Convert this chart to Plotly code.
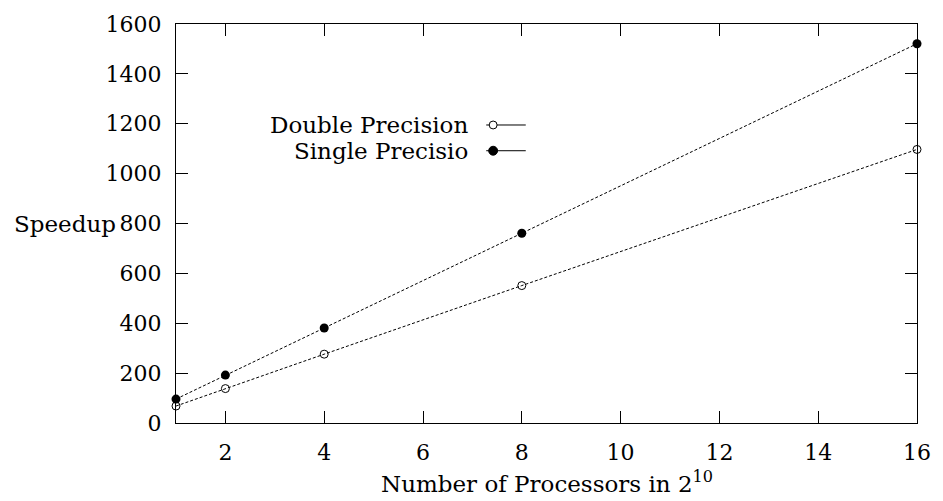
import plotly.graph_objects as go

procs = [1, 2, 4, 8, 16]
double_prec = [68, 138, 276, 551, 1097]
single_prec = [96, 192, 381, 761, 1521]
x_ticks = [2, 4, 6, 8, 10, 12, 14, 16]
y_ticks = [0, 200, 400, 600, 800, 1000, 1200, 1400, 1600]

FONT = "DejaVu Serif, Liberation Serif, serif"
FS = 22
FT = 23

fig = go.Figure()
fig.add_trace(go.Scatter(x=procs, y=double_prec, mode="lines+markers", name="Double Precision",
                         line=dict(color="black", width=1, dash="3px,2px"),
                         marker=dict(symbol="circle-open", size=8, color="black", line=dict(width=1)),
                         cliponaxis=False, showlegend=False))
fig.add_trace(go.Scatter(x=procs, y=single_prec, mode="lines+markers", name="Single Precisio",
                         line=dict(color="black", width=1, dash="3px,2px"),
                         marker=dict(symbol="circle", size=9, color="black"),
                         cliponaxis=False, showlegend=False))

# legend drawn like the original: label on the left, sample on the right
ML, MR, MT, MB = 176, 17, 20, 78
PW, PH = 943 - ML - MR, 501 - MT - MB
legend_items = [("Double Precision", False, 122), ("Single Precisio", True, 148)]
for name, filled, ypx in legend_items:
    yp = (501 - MB - ypx) / PH
    fig.add_annotation(xref="paper", yref="paper", x=(474 - ML) / PW, y=yp, text=name, showarrow=False,
                       xanchor="right", yanchor="middle", font=dict(family=FONT, size=FT, color="black"))
    fig.add_shape(type="line", xref="paper", yref="paper", x0=(490 - ML) / PW, x1=(530 - ML) / PW,
                  y0=yp, y1=yp, line=dict(color="black", width=1))
    r = 4 if not filled else 4.5
    cx = (497 - ML) / PW
    fig.add_shape(type="circle", xref="paper", yref="paper",
                  x0=cx - r / PW, x1=cx + r / PW, y0=yp - r / PH, y1=yp + r / PH,
                  line=dict(color="black", width=1),
                  fillcolor="black" if filled else "white")

fig.add_annotation(xref="paper", yref="paper", x=(10 - ML) / PW, y=(501 - MB - 222) / PH, text="Speedup",
                   showarrow=False, xanchor="left", yanchor="middle",
                   font=dict(family=FONT, size=FT, color="black"))
fig.add_annotation(xref="paper", yref="paper", x=(551 - ML) / PW, y=-(483 - (501 - MB)) / PH,
                   text="Number of Processors in 2<sup>10</sup>",
                   showarrow=False, xanchor="center", yanchor="middle",
                   font=dict(family=FONT, size=FT, color="black"))

fig.update_xaxes(range=[1, 16], tickvals=x_ticks, ticks="inside", ticklen=12, tickcolor="black",
                 showline=True, linecolor="black", linewidth=1, mirror="ticks", showgrid=False,
                 zeroline=False, ticklabelstandoff=10,
                 tickfont=dict(family=FONT, size=FS, color="black"))
fig.update_yaxes(range=[0, 1600], tickvals=y_ticks, ticks="inside", ticklen=12, tickcolor="black",
                 showline=True, linecolor="black", linewidth=1, mirror="ticks", showgrid=False,
                 zeroline=False, ticklabelstandoff=9,
                 tickfont=dict(family=FONT, size=FS, color="black"))

fig.update_layout(width=943, height=501, margin=dict(l=ML, r=MR, t=MT, b=MB),
                  plot_bgcolor="white", paper_bgcolor="white", showlegend=False)

fig.write_html("out.html")
